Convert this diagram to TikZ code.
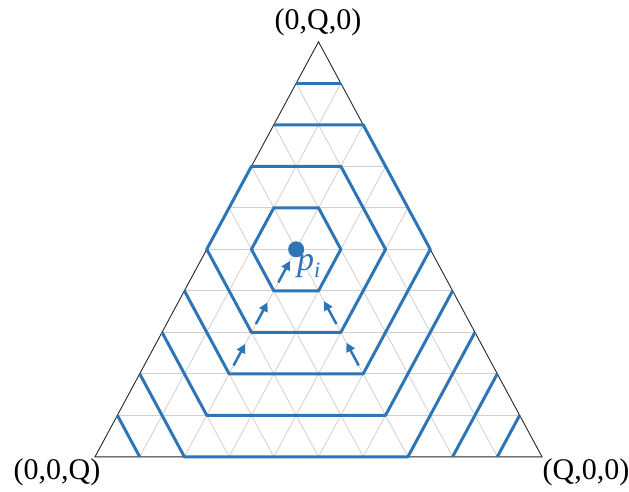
\documentclass[tikz,border=0pt]{standalone}
\usepackage{fontspec}
\setmainfont{Liberation Serif}
\usetikzlibrary{arrows.meta,calc}
\definecolor{cblue}{RGB}{46,117,182}
\definecolor{gridgray}{RGB}{208,208,208}
\begin{document}
\begin{tikzpicture}[x=1pt,y=-1pt,
  gridline/.style={draw=gridgray,line width=0.8pt},
  frame/.style={draw=black!85,line width=0.9pt},
  contour/.style={draw=cblue,line width=3pt,line join=round},
  flowarrow/.style={draw=cblue,line width=2.5pt,-{Triangle[length=9pt,width=9pt]}},
  corner/.style={font=\fontsize{30}{30}\selectfont,inner sep=0pt},
]
\useasboundingbox (0,0) rectangle (629,492);
\foreach \r in {0,...,10}{
  \pgfmathtruncatemacro\imax{10-\r}
  \foreach \i in {0,...,\imax}{
    \coordinate (p-\i-\r) at ({95+44.7*\i+22.35*\r},{456.8-41.5*\r});
  }
}
% grid
\foreach \k in {1,...,9}{
  \pgfmathtruncatemacro\m{10-\k}
  \draw[gridline] (p-0-\k) -- (p-\m-\k);
  \draw[gridline] (p-\k-0) -- (p-\k-\m);
  \draw[gridline] (p-\m-0) -- (p-0-\m);
}
\draw[frame] (p-0-0) -- (p-10-0) -- (p-0-10) -- cycle;
% contours
\draw[contour] (p-1-6) -- (p-2-6) -- (p-3-5) -- (p-3-4) -- (p-2-4) -- (p-1-5) -- cycle;
\draw[contour] (p-0-7) -- (p-2-7) -- (p-4-5) -- (p-4-3) -- (p-2-3) -- (p-0-5) -- cycle;
\draw[contour] (p-0-8) -- (p-2-8) -- (p-5-5) -- (p-5-2) -- (p-2-2) -- (p-0-4);
\draw[contour] (p-0-9) -- (p-1-9);
\draw[contour] (p-6-4) -- (p-6-1) -- (p-2-1) -- (p-0-3);
\draw[contour] (p-7-3) -- (p-7-0) -- (p-2-0) -- (p-0-2);
\draw[contour] (p-8-2) -- (p-8-0);
\draw[contour] (p-1-0) -- (p-0-1);
\draw[contour] (p-9-1) -- (p-9-0);
% arrows
\draw[flowarrow] ($(p-2-2)!0.2!(p-2-3)$) -- ($(p-2-2)!0.72!(p-2-3)$);
\draw[flowarrow] ($(p-2-3)!0.2!(p-2-4)$) -- ($(p-2-3)!0.72!(p-2-4)$);
\draw[flowarrow] ($(p-2-4)!0.2!(p-2-5)$) -- ($(p-2-4)!0.72!(p-2-5)$);
\draw[flowarrow] ($(p-4-3)!0.2!(p-3-4)$) -- ($(p-4-3)!0.75!(p-3-4)$);
\draw[flowarrow] ($(p-5-2)!0.2!(p-4-3)$) -- ($(p-5-2)!0.75!(p-4-3)$);
% point
\node[circle,fill=cblue,minimum size=16pt,inner sep=0pt] (pi) at (p-2-5) {};
\node[text=cblue,font=\fontsize{34}{34}\selectfont\itshape,anchor=north west,inner sep=0pt] (pilabel) at (297,254) {p\raisebox{-7pt}{\fontsize{22}{22}\selectfont i}};
% corner labels
\node[corner] (ctop) at (318,22) {(0,Q,0)};
\node[corner] (cleft) at (57,472) {(0,0,Q)};
\node[corner] (cright) at (586,472) {(Q,0,0)};
\end{tikzpicture}
\end{document}
